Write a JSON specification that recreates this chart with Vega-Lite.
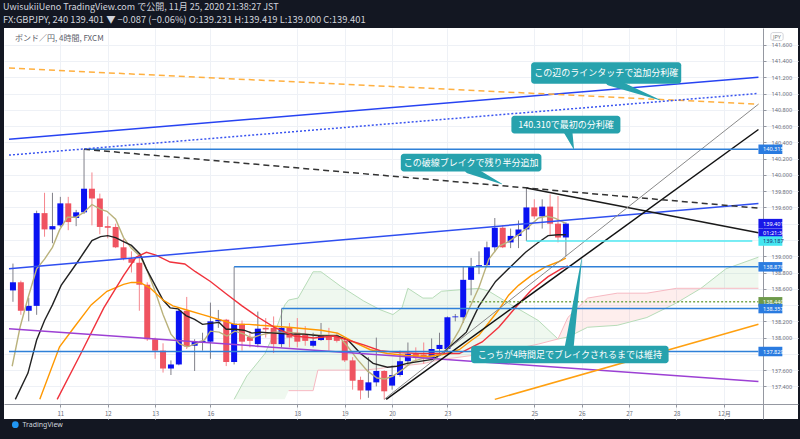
{
"$schema":"https://vega.github.io/schema/vega-lite/v6.json",
"width":794,"height":391,
"autosize":{"type":"none"},
"padding":{"left":4,"top":28,"right":2,"bottom":20},
"background":"#131722",
"config":{"view":{"fill":"white","stroke":null},
"axis":{"gridColor":"#eef1f6","domainColor":"#9598a1","tickColor":"#9598a1","labelColor":"#6a6d78","labelFontSize":6,"titleOpacity":0,"labelFont":"Noto Sans CJK JP","labelOverlap":false,"labelSeparation":0,"labelBound":false},
"axisY":{"labelOverlap":false,"labelFontSize":5.6,"labelFont":"Noto Sans"}},
"resolve":{"scale":{"color":"independent","size":"independent","strokeWidth":"independent"}},
"title":{"text":"UwisukiiUeno TradingView.com で公開, 11月 25, 2020 21:38:27 JST","subtitle":"FX:GBPJPY, 240 139.401 ▼ −0.087 (−0.06%) O:139.231 H:139.419 L:139.000 C:139.401","anchor":"start","frame":"group","color":"#d1d4dc","subtitleColor":"#d1d4dc","font":"Noto Sans CJK JP","subtitleFont":"Noto Sans CJK JP","fontSize":9,"subtitleFontSize":9.4,"fontWeight":"normal","offset":4,"dx":-1,"subtitlePadding":4},
"datasets":{
"candles":[
{"i":-6,"o":138.58,"h":138.91,"l":138.44,"c":138.68},
{"i":-5,"o":138.68,"h":138.70,"l":138.28,"c":138.33},
{"i":-4,"o":138.33,"h":138.49,"l":138.20,"c":138.39},
{"i":-3,"o":138.39,"h":139.56,"l":138.28,"c":139.53},
{"i":-2,"o":139.53,"h":139.78,"l":139.24,"c":139.33},
{"i":-1,"o":139.33,"h":139.78,"l":139.16,"c":139.37},
{"i":0,"o":139.38,"h":139.73,"l":139.36,"c":139.65},
{"i":1,"o":139.65,"h":139.73,"l":139.32,"c":139.42},
{"i":2,"o":139.47,"h":139.57,"l":139.37,"c":139.54},
{"i":3,"o":139.54,"h":140.315,"l":139.52,"c":139.83},
{"i":4,"o":139.83,"h":140.03,"l":139.38,"c":139.71},
{"i":5,"o":139.71,"h":139.77,"l":139.27,"c":139.36},
{"i":6,"o":139.37,"h":139.49,"l":139.22,"c":139.35},
{"i":7,"o":139.36,"h":139.40,"l":139.10,"c":139.11},
{"i":8,"o":139.11,"h":139.21,"l":138.95,"c":138.97},
{"i":9,"o":138.97,"h":139.06,"l":138.80,"c":138.92},
{"i":10,"o":138.92,"h":139.01,"l":138.33,"c":138.65},
{"i":11,"o":138.65,"h":138.68,"l":137.96,"c":137.98},
{"i":12,"o":137.98,"h":138.00,"l":137.74,"c":137.84},
{"i":13,"o":137.84,"h":137.93,"l":137.57,"c":137.62},
{"i":14,"o":137.62,"h":137.72,"l":137.54,"c":137.67},
{"i":15,"o":137.67,"h":138.36,"l":137.66,"c":138.33},
{"i":16,"o":138.33,"h":138.50,"l":137.86,"c":137.89},
{"i":17,"o":137.90,"h":137.98,"l":137.59,"c":137.95},
{"i":18,"o":137.94,"h":138.06,"l":137.84,"c":137.96},
{"i":19,"o":137.95,"h":138.43,"l":137.74,"c":138.20},
{"i":20,"o":138.20,"h":138.34,"l":138.12,"c":138.22},
{"i":21,"o":138.22,"h":138.23,"l":137.65,"c":137.70},
{"i":22,"o":137.70,"h":138.87,"l":137.67,"c":138.17},
{"i":23,"o":138.17,"h":138.21,"l":137.84,"c":137.95},
{"i":24,"o":138.01,"h":138.08,"l":137.88,"c":137.96},
{"i":25,"o":137.92,"h":138.32,"l":137.88,"c":138.11},
{"i":26,"o":138.12,"h":138.24,"l":138.00,"c":138.10},
{"i":27,"o":138.12,"h":138.26,"l":137.81,"c":137.92},
{"i":28,"o":137.92,"h":138.357,"l":137.88,"c":138.12},
{"i":29,"o":138.13,"h":138.18,"l":137.88,"c":138.00},
{"i":30,"o":138.06,"h":138.24,"l":137.88,"c":137.95},
{"i":31,"o":138.04,"h":138.14,"l":137.90,"c":137.96},
{"i":32,"o":137.90,"h":138.06,"l":137.88,"c":137.96},
{"i":33,"o":137.97,"h":138.18,"l":137.96,"c":138.03},
{"i":34,"o":138.03,"h":138.12,"l":137.84,"c":137.97},
{"i":35,"o":138.01,"h":138.06,"l":137.94,"c":137.96},
{"i":36,"o":137.96,"h":138.00,"l":137.70,"c":137.72},
{"i":37,"o":137.72,"h":137.76,"l":137.36,"c":137.47},
{"i":38,"o":137.48,"h":137.52,"l":137.24,"c":137.35},
{"i":39,"o":137.35,"h":137.76,"l":137.26,"c":137.45},
{"i":40,"o":137.45,"h":138.00,"l":137.40,"c":137.59},
{"i":41,"o":137.59,"h":137.60,"l":137.24,"c":137.34},
{"i":42,"o":137.41,"h":137.66,"l":137.36,"c":137.54},
{"i":43,"o":137.54,"h":137.84,"l":137.52,"c":137.71},
{"i":44,"o":137.71,"h":137.94,"l":137.66,"c":137.80},
{"i":45,"o":137.80,"h":137.88,"l":137.70,"c":137.76},
{"i":46,"o":137.79,"h":137.94,"l":137.68,"c":137.76},
{"i":47,"o":137.74,"h":137.99,"l":137.72,"c":137.86},
{"i":48,"o":137.86,"h":138.06,"l":137.80,"c":137.91},
{"i":49,"o":137.86,"h":138.26,"l":137.83,"c":138.25},
{"i":50,"o":138.25,"h":138.29,"l":138.20,"c":138.26},
{"i":51,"o":138.25,"h":138.88,"l":138.18,"c":138.71},
{"i":52,"o":138.71,"h":138.98,"l":138.52,"c":138.87},
{"i":53,"o":138.87,"h":139.06,"l":138.78,"c":138.89},
{"i":54,"o":138.89,"h":139.18,"l":138.88,"c":139.11},
{"i":55,"o":139.11,"h":139.47,"l":139.05,"c":139.35},
{"i":56,"o":139.35,"h":139.38,"l":139.10,"c":139.11},
{"i":57,"o":139.17,"h":139.34,"l":139.10,"c":139.25},
{"i":58,"o":139.25,"h":139.44,"l":139.10,"c":139.33},
{"i":59,"o":139.33,"h":139.84,"l":139.187,"c":139.60},
{"i":60,"o":139.60,"h":139.70,"l":139.46,"c":139.49},
{"i":61,"o":139.49,"h":139.70,"l":139.34,"c":139.61},
{"i":62,"o":139.61,"h":139.76,"l":139.26,"c":139.40},
{"i":63,"o":139.40,"h":139.74,"l":139.17,"c":139.23},
{"i":64,"o":139.231,"h":139.419,"l":139.000,"c":139.401}
],
"ma":[
{"s":"ma5","i":-6.1,"p":137.648},{"s":"ma5","i":-5.1,"p":138.127},{"s":"ma5","i":-4.1,"p":138.486},{"s":"ma5","i":-3,"p":138.845},{"s":"ma5","i":-2,"p":138.965},{"s":"ma5","i":-1,"p":139.109},{"s":"ma5","i":-0.1,"p":139.324},{"s":"ma5","i":0.9,"p":139.48},{"s":"ma5","i":2,"p":139.48},{"s":"ma5","i":3,"p":139.54},{"s":"ma5","i":4,"p":139.636},{"s":"ma5","i":5.1,"p":139.576},{"s":"ma5","i":5.9,"p":139.552},{"s":"ma5","i":7,"p":139.456},{"s":"ma5","i":8,"p":139.229},{"s":"ma5","i":9,"p":139.097},{"s":"ma5","i":10.1,"p":139.001},{"s":"ma5","i":10.9,"p":138.845},{"s":"ma5","i":12,"p":138.57},{"s":"ma5","i":13,"p":138.283},{"s":"ma5","i":14,"p":138.043},{"s":"ma5","i":15.1,"p":137.923},{"s":"ma5","i":16.1,"p":137.887},{"s":"ma5","i":17.1,"p":137.923},{"s":"ma5","i":18.25,"p":137.971},{"s":"ma5","i":19,"p":138.079},{"s":"ma5","i":20.1,"p":138.067},{"s":"ma5","i":21.1,"p":138.019},{"s":"ma5","i":22.1,"p":138.079},{"s":"ma5","i":23.25,"p":138.043},{"s":"ma5","i":24.25,"p":137.995},{"s":"ma5","i":25.25,"p":138.031},{"s":"ma5","i":27.1,"p":138.067},{"s":"ma5","i":28.9,"p":138.067},{"s":"ma5","i":30.9,"p":138.043},{"s":"ma5","i":33,"p":138.031},{"s":"ma5","i":35.1,"p":138.031},{"s":"ma5","i":36.4,"p":137.887},{"s":"ma5","i":37.6,"p":137.732},{"s":"ma5","i":38.9,"p":137.588},{"s":"ma5","i":40.1,"p":137.504},{"s":"ma5","i":41.1,"p":137.492},{"s":"ma5","i":42.1,"p":137.528},{"s":"ma5","i":43.4,"p":137.612},{"s":"ma5","i":44.6,"p":137.708},{"s":"ma5","i":45.9,"p":137.744},{"s":"ma5","i":47.1,"p":137.768},{"s":"ma5","i":48.25,"p":137.804},{"s":"ma5","i":49.25,"p":137.887},{"s":"ma5","i":50.5,"p":138.091},{"s":"ma5","i":51.75,"p":138.354},{"s":"ma5","i":53,"p":138.618},{"s":"ma5","i":54.25,"p":138.965},{"s":"ma5","i":55.5,"p":139.121},{"s":"ma5","i":56.75,"p":139.181},{"s":"ma5","i":58,"p":139.265},{"s":"ma5","i":59.25,"p":139.36},{"s":"ma5","i":60.5,"p":139.468},{"s":"ma5","i":61.5,"p":139.492},{"s":"ma5","i":62.6,"p":139.468},{"s":"ma5","i":63.9,"p":139.408},
{"s":"ma20","i":-5.7,"p":137.241},{"s":"ma20","i":-4.1,"p":137.564},{"s":"ma20","i":-3,"p":137.971},{"s":"ma20","i":-2,"p":138.211},{"s":"ma20","i":-1,"p":138.402},{"s":"ma20","i":0.1,"p":138.642},{"s":"ma20","i":2,"p":138.905},{"s":"ma20","i":3,"p":139.049},{"s":"ma20","i":4,"p":139.193},{"s":"ma20","i":5.1,"p":139.241},{"s":"ma20","i":6,"p":139.253},{"s":"ma20","i":7,"p":139.229},{"s":"ma20","i":8,"p":139.181},{"s":"ma20","i":9,"p":139.133},{"s":"ma20","i":10.1,"p":139.025},{"s":"ma20","i":10.9,"p":138.845},{"s":"ma20","i":12,"p":138.642},{"s":"ma20","i":13,"p":138.462},{"s":"ma20","i":13.9,"p":138.366},{"s":"ma20","i":14.9,"p":138.354},{"s":"ma20","i":15.9,"p":138.271},{"s":"ma20","i":17,"p":138.223},{"s":"ma20","i":18,"p":138.163},{"s":"ma20","i":19,"p":138.175},{"s":"ma20","i":20.1,"p":138.187},{"s":"ma20","i":21,"p":138.103},{"s":"ma20","i":22.1,"p":138.103},{"s":"ma20","i":23.25,"p":138.091},{"s":"ma20","i":24.25,"p":138.055},{"s":"ma20","i":25.25,"p":138.067},{"s":"ma20","i":27.1,"p":138.055},{"s":"ma20","i":28.9,"p":138.043},{"s":"ma20","i":30.9,"p":138.043},{"s":"ma20","i":33,"p":138.019},{"s":"ma20","i":35.1,"p":138.019},{"s":"ma20","i":36.4,"p":137.971},{"s":"ma20","i":38,"p":137.804},{"s":"ma20","i":39.6,"p":137.684},{"s":"ma20","i":41.4,"p":137.636},{"s":"ma20","i":42.6,"p":137.648},{"s":"ma20","i":43.9,"p":137.684},{"s":"ma20","i":45.5,"p":137.708},{"s":"ma20","i":47.1,"p":137.732},{"s":"ma20","i":48.4,"p":137.804},{"s":"ma20","i":49.6,"p":137.911},{"s":"ma20","i":51.4,"p":138.067},{"s":"ma20","i":53,"p":138.39},{"s":"ma20","i":55.1,"p":138.69},{"s":"ma20","i":57.1,"p":138.881},{"s":"ma20","i":58.9,"p":139.049},{"s":"ma20","i":60.5,"p":139.169},{"s":"ma20","i":61.75,"p":139.253},{"s":"ma20","i":63,"p":139.265},{"s":"ma20","i":64,"p":139.265},
{"s":"ma50","i":-2.6,"p":137.241},{"s":"ma50","i":-0.1,"p":137.887},{"s":"ma50","i":1.75,"p":138.127},{"s":"ma50","i":3.9,"p":138.402},{"s":"ma50","i":5.9,"p":138.57},{"s":"ma50","i":8,"p":138.654},{"s":"ma50","i":9,"p":138.678},{"s":"ma50","i":10.1,"p":138.678},{"s":"ma50","i":11.4,"p":138.606},{"s":"ma50","i":13,"p":138.462},{"s":"ma50","i":14.25,"p":138.39},{"s":"ma50","i":15.9,"p":138.342},{"s":"ma50","i":18,"p":138.283},{"s":"ma50","i":20.1,"p":138.223},{"s":"ma50","i":22.1,"p":138.163},{"s":"ma50","i":23.9,"p":138.163},{"s":"ma50","i":25.25,"p":138.151},{"s":"ma50","i":28.9,"p":138.127},{"s":"ma50","i":33,"p":138.091},{"s":"ma50","i":35.1,"p":138.055},{"s":"ma50","i":37.1,"p":137.947},{"s":"ma50","i":39.25,"p":137.851},{"s":"ma50","i":41.4,"p":137.804},{"s":"ma50","i":43.9,"p":137.78},{"s":"ma50","i":46.4,"p":137.768},{"s":"ma50","i":48.4,"p":137.792},{"s":"ma50","i":50.5,"p":137.851},{"s":"ma50","i":52.1,"p":137.971},{"s":"ma50","i":53,"p":138.031},{"s":"ma50","i":54.25,"p":138.186},{"s":"ma50","i":55.5,"p":138.342},{"s":"ma50","i":56.75,"p":138.522},{"s":"ma50","i":58,"p":138.642},{"s":"ma50","i":59.6,"p":138.762},{"s":"ma50","i":61.4,"p":138.869},{"s":"ma50","i":63,"p":138.929},{"s":"ma50","i":64,"p":138.977},
{"s":"ma75","i":-0.4,"p":137.241},{"s":"ma75","i":2.6,"p":137.804},{"s":"ma75","i":5.5,"p":138.366},{"s":"ma75","i":8,"p":138.761},{"s":"ma75","i":9.6,"p":138.989},{"s":"ma75","i":10.9,"p":139.049},{"s":"ma75","i":12.1,"p":139.013},{"s":"ma75","i":13.9,"p":138.929},{"s":"ma75","i":15.75,"p":138.905},{"s":"ma75","i":17.1,"p":138.81},{"s":"ma75","i":19,"p":138.69},{"s":"ma75","i":20.9,"p":138.546},{"s":"ma75","i":23,"p":138.39},{"s":"ma75","i":25.1,"p":138.247},{"s":"ma75","i":27.1,"p":138.127},{"s":"ma75","i":29.6,"p":138.019},{"s":"ma75","i":32.1,"p":137.995},{"s":"ma75","i":34.6,"p":138.019},{"s":"ma75","i":36.4,"p":137.971},{"s":"ma75","i":38.4,"p":137.911},{"s":"ma75","i":40.5,"p":137.839},{"s":"ma75","i":43,"p":137.816},{"s":"ma75","i":45.5,"p":137.804},{"s":"ma75","i":48,"p":137.804},{"s":"ma75","i":50.5,"p":137.804},{"s":"ma75","i":53.4,"p":137.947},{"s":"ma75","i":55.5,"p":138.127},{"s":"ma75","i":57.6,"p":138.366},{"s":"ma75","i":59.6,"p":138.582},{"s":"ma75","i":61.75,"p":138.75},{"s":"ma75","i":63.4,"p":138.845},{"s":"ma75","i":64.25,"p":138.881}
],
"cloud":[
{"seg":"g1","i":22,"a":137.241,"b":137.241},{"seg":"g1","i":23.6,"a":137.528,"b":137.241},{"seg":"g1","i":25.9,"a":137.803,"b":137.241},{"seg":"g1","i":27.4,"a":138.127,"b":137.241},{"seg":"g1","i":28.4,"a":138.4,"b":137.241},{"seg":"g1","i":28.9,"a":138.462,"b":137.348},{"seg":"g1","i":30.1,"a":138.486,"b":137.348},{"seg":"g1","i":32.0,"a":138.809,"b":137.348},{"seg":"g1","i":32.6,"a":138.809,"b":137.6},{"seg":"g1","i":33.0,"a":138.809,"b":137.6},{"seg":"g1","i":35.5,"a":138.63,"b":137.6},{"seg":"g1","i":38.4,"a":138.45,"b":137.6},{"seg":"g1","i":40.5,"a":138.342,"b":137.62},{"seg":"g1","i":42.1,"a":138.283,"b":137.648},{"seg":"g1","i":43.25,"a":138.366,"b":137.65},{"seg":"g1","i":44.0,"a":138.606,"b":137.66},{"seg":"g1","i":45.9,"a":138.486,"b":137.68},{"seg":"g1","i":47.1,"a":138.486,"b":137.708},{"seg":"g1","i":48.25,"a":138.57,"b":137.73},{"seg":"g1","i":53.0,"a":138.606,"b":137.792},{"seg":"g1","i":54.25,"a":138.57,"b":137.8},{"seg":"g1","i":57.1,"a":138.402,"b":137.85},{"seg":"g1","i":60.5,"a":138.211,"b":137.92},{"seg":"g1","i":63.0,"a":137.983,"b":137.983},
{"seg":"r","i":63.0,"a":137.983,"b":137.983},{"seg":"r","i":64.25,"a":138.007,"b":138.247},{"seg":"r","i":66.75,"a":138.127,"b":138.486},{"seg":"r","i":70.5,"a":138.151,"b":138.546},{"seg":"r","i":74.25,"a":138.247,"b":138.546},{"seg":"r","i":78.0,"a":138.426,"b":138.606},{"seg":"r","i":81.1,"a":138.606,"b":138.606},
{"seg":"g2","i":81.1,"a":138.606,"b":138.606},{"seg":"g2","i":84.25,"a":138.845,"b":138.606},{"seg":"g2","i":88.375,"a":138.989,"b":138.606}
],
"solid":[
{"s":"upperBlue","i":-6.5,"p":140.438},{"s":"upperBlue","i":88.375,"p":141.201},
{"s":"midBlue","i":-6.5,"p":138.846},{"s":"midBlue","i":88.375,"p":139.648},
{"s":"purple","i":-6.5,"p":138.109},{"s":"purple","i":88.375,"p":137.461},
{"s":"blkDown","i":59,"p":139.84},{"s":"blkDown","i":88.375,"p":139.289},
{"s":"blkUp","i":41.25,"p":137.241},{"s":"blkUp","i":88.375,"p":140.558},
{"s":"greyUp","i":41,"p":137.241},{"s":"greyUp","i":88.375,"p":140.869},
{"s":"orangeUp","i":55,"p":137.241},{"s":"orangeUp","i":88.375,"p":138.163},
{"s":"h140315","i":3,"p":140.315},{"s":"h140315","i":88.375,"p":140.315},
{"s":"h138870","i":22,"p":138.87},{"s":"h138870","i":88.375,"p":138.87},
{"s":"h138357","i":28,"p":138.357},{"s":"h138357","i":88.375,"p":138.357},
{"s":"h137829","i":-6.5,"p":137.829},{"s":"h137829","i":88.375,"p":137.829},
{"s":"h139187","i":59,"p":139.187},{"s":"h139187","i":87.6,"p":139.187}
],
"dashed":[
{"s":"orangeDash","i":-6.5,"p":141.313},{"s":"orangeDash","i":88.375,"p":140.869},
{"s":"blkDash","i":3,"p":140.315},{"s":"blkDash","i":88.375,"p":139.591}
],
"dotted":[
{"s":"blueDot","i":-6.5,"p":140.243},{"s":"blueDot","i":88.375,"p":141.001},
{"s":"greenDot","i":51.75,"p":138.44},{"s":"greenDot","i":88.375,"p":138.44}
],
"notes":[
{"t":"この辺のラインタッチで追加分利確","i0":59.6,"i1":78.6,"p0":141.121,"p1":141.384,"ti":69.1,"tp":141.253},
{"t":"140.310で最初の分利確","i0":57.1,"i1":70.9,"p0":140.51,"p1":140.726,"ti":64.0,"tp":140.618},
{"t":"この破線ブレイクで残り半分追加","i0":43.1,"i1":60.9,"p0":140.043,"p1":140.259,"ti":52.0,"tp":140.151},
{"t":"こっちが4時間足でブレイクされるまでは維持","i0":52,"i1":77,"p0":137.684,"p1":137.899,"ti":64.5,"tp":137.792}
],
"tails":[
{"t":"A","k":0,"i":69.6,"p":141.15},{"t":"A","k":1,"i":75.9,"p":140.921},
{"t":"B","k":0,"i":64.25,"p":140.54},{"t":"B","k":1,"i":65,"p":140.319},
{"t":"C","k":0,"i":51.75,"p":140.07},{"t":"C","k":1,"i":55.9,"p":139.888},
{"t":"D","k":0,"i":64.4,"p":137.87},{"t":"D","k":1,"i":66,"p":138.965}
],
"plabels":[
{"lab":"140.315","p":140.315},
{"lab":"139.401","p":139.401},
{"lab":"01:21:34","p":139.283},
{"lab":"139.187","p":139.187},
{"lab":"138.870","p":138.87},
{"lab":"138.440","p":138.44},
{"lab":"138.357","p":138.357},
{"lab":"137.829","p":137.829}
]
},
"layer":[
{"data":{"name":"cloud"},"mark":{"type":"area","fillOpacity":0.09},
"encoding":{
"x":{"field":"i","type":"quantitative","title":null,"scale":{"domain":[-6.5,92.75],"nice":false,"zero":false},
"axis":{"orient":"bottom","offset":-15,"values":[0,6,12,19,30,36,42,49,60,66,72,78,84],"tickCount":40,"tickSize":3,"labelPadding":3,"labelOverlap":false,"labelFlush":false,
"labelExpr":"datum.value==0?'11':datum.value==6?'12':datum.value==12?'13':datum.value==19?'16':datum.value==30?'18':datum.value==36?'19':datum.value==42?'20':datum.value==49?'23':datum.value==60?'25':datum.value==66?'26':datum.value==72?'27':datum.value==78?'28':'12月'"}},
"y":{"field":"a","type":"quantitative","title":null,"scale":{"domain":[137.061,141.744],"nice":false,"zero":false},
"axis":{"orient":"right","offset":-35,"values":[137.4,137.6,137.8,138.0,138.2,138.4,138.6,138.8,139.0,139.2,139.4,139.6,139.8,140.0,140.2,140.4,140.6,140.8,141.0,141.2,141.4,141.6],"tickCount":40,"tickSize":3,"labelPadding":5,"labelOverlap":false,"labelSeparation":0,"labelBound":false,"labelFlush":false,"labelFontSize":5.6,"labelFont":"Noto Sans",
"labelExpr":"(abs(datum.value-139.4)<0.01||abs(datum.value-139.2)<0.01||abs(datum.value-138.4)<0.01||abs(datum.value-137.8)<0.01)?'':format(datum.value,'.3f')"}},
"y2":{"field":"b"},
"detail":{"field":"seg"},
"color":{"condition":{"test":"datum.seg=='r'","value":"#f44336"},"value":"#4caf50"}}},
{"data":{"name":"cloud"},"mark":{"type":"line","stroke":"#b7dcb8","strokeWidth":1},
"encoding":{"x":{"field":"i","type":"quantitative"},"y":{"field":"a","type":"quantitative"}}},
{"data":{"name":"cloud"},"transform":[{"filter":"datum.i>=28.9"}],"mark":{"type":"line","stroke":"#f7b9c2","strokeWidth":1},
"encoding":{"x":{"field":"i","type":"quantitative"},"y":{"field":"b","type":"quantitative"}}},
{"data":{"name":"candles"},"mark":{"type":"rule","strokeWidth":1},
"encoding":{"x":{"field":"i","type":"quantitative"},"y":{"field":"l","type":"quantitative"},"y2":{"field":"h"},
"color":{"condition":{"test":"datum.c>=datum.o","value":"#808089"},"value":"#f5868d"}}},
{"data":{"name":"candles"},"mark":{"type":"bar","size":6},
"encoding":{"x":{"field":"i","type":"quantitative"},"y":{"field":"o","type":"quantitative"},"y2":{"field":"c"},
"color":{"condition":{"test":"datum.c>=datum.o","value":"#0a12f2"},"value":"#ef5360"}}},
{"data":{"name":"ma"},"mark":{"type":"line","strokeWidth":1.4},
"encoding":{"x":{"field":"i","type":"quantitative"},"y":{"field":"p","type":"quantitative"},
"color":{"field":"s","type":"nominal","legend":null,"scale":{"domain":["ma5","ma20","ma50","ma75"],"range":["#bab27c","#222222","#ff9800","#f0323c"]}},
"strokeWidth":{"condition":{"test":"datum.s=='ma5'","value":1.1},"value":1.5}}},
{"data":{"name":"solid"},"mark":{"type":"line"},
"encoding":{"x":{"field":"i","type":"quantitative"},"y":{"field":"p","type":"quantitative"},"detail":{"field":"s"},
"color":{"field":"s","type":"nominal","legend":null,"scale":{"domain":["upperBlue","midBlue","purple","blkDown","blkUp","greyUp","orangeUp","h140315","h138870","h138357","h137829","h139187"],"range":["#2743f2","#2f4ff0","#9c40d4","#1a1a1a","#111111","#8a8a8a","#ffa010","#2f80d8","#2f80d8","#2f80d8","#2f80d8","#4fe8f2"]}},
"strokeWidth":{"condition":{"test":"datum.s=='greyUp'","value":1},"value":1.5}}},
{"data":{"name":"dashed"},"mark":{"type":"line","strokeDash":[6,4],"strokeWidth":1.5},
"encoding":{"x":{"field":"i","type":"quantitative"},"y":{"field":"p","type":"quantitative"},"detail":{"field":"s"},
"color":{"field":"s","type":"nominal","legend":null,"scale":{"domain":["orangeDash","blkDash"],"range":["#ffb040","#333333"]}}}},
{"data":{"name":"dotted"},"mark":{"type":"line","strokeDash":[2,2],"strokeWidth":1.5},
"encoding":{"x":{"field":"i","type":"quantitative"},"y":{"field":"p","type":"quantitative"},"detail":{"field":"s"},
"color":{"field":"s","type":"nominal","legend":null,"scale":{"domain":["blueDot","greenDot"],"range":["#3a55f0","#7aa84e"]}}}},
{"data":{"name":"notes"},"mark":{"type":"rect","color":"#27a2ad","cornerRadius":3},
"encoding":{"x":{"field":"i0","type":"quantitative"},"x2":{"field":"i1"},"y":{"field":"p0","type":"quantitative"},"y2":{"field":"p1"}}},
{"data":{"name":"tails"},"mark":{"type":"trail","color":"#27a2ad"},
"encoding":{"x":{"field":"i","type":"quantitative"},"y":{"field":"p","type":"quantitative"},"detail":{"field":"t"},"order":{"field":"k"},
"size":{"field":"k","type":"quantitative","legend":null,"scale":{"domain":[0,1],"range":[9,0.5]}}}},
{"data":{"name":"notes"},"mark":{"type":"text","color":"white","font":"Noto Sans CJK JP","fontSize":9,"align":"center","baseline":"middle"},
"encoding":{"x":{"field":"ti","type":"quantitative"},"y":{"field":"tp","type":"quantitative"},"text":{"field":"t"}}},
{"data":{"name":"plabels"},"mark":{"type":"bar","size":9.5},
"encoding":{"x":{"datum":88.375},"x2":{"datum":91.4},"y":{"field":"p","type":"quantitative"},
"color":{"field":"lab","type":"nominal","legend":null,"scale":{"domain":["140.315","139.401","01:21:34","139.187","138.870","138.440","138.357","137.829"],"range":["#2a7be0","#1717e8","#1717e8","#45e6f0","#2a7be0","#6e9a4a","#2a7be0","#2a7be0"]}}}},
{"data":{"name":"plabels"},"mark":{"type":"text","fontSize":5.6,"font":"Noto Sans","align":"left","baseline":"middle"},
"encoding":{"x":{"datum":88.95},"y":{"field":"p","type":"quantitative"},"text":{"field":"lab"},
"color":{"condition":{"test":"datum.lab=='139.187'","value":"#1b2a6e"},"value":"white"}}},
{"data":{"values":[{"t":"ボンド／円, 4時間, FXCM"}]},"mark":{"type":"text","font":"Noto Sans CJK JP","fontSize":8,"color":"#5d606b","align":"left","baseline":"middle"},
"encoding":{"x":{"datum":-5.75},"y":{"datum":141.672},"text":{"field":"t"}}},
{"data":{"values":[{"t":"JPY"}]},"mark":{"type":"bar","size":8,"fill":"white","stroke":"#c8cad0","strokeWidth":0.8,"cornerRadius":2},
"encoding":{"x":{"datum":89.95},"x2":{"datum":91.5},"y":{"datum":141.7}}},
{"data":{"values":[{"t":"JPY"}]},"mark":{"type":"text","font":"Noto Sans","fontSize":5.5,"color":"#777777","align":"center","baseline":"middle"},
"encoding":{"x":{"datum":90.72},"y":{"datum":141.7},"text":{"field":"t"}}},
{"data":{"values":[{"t":"TradingView"}]},"mark":{"type":"text","font":"Noto Sans","fontSize":7,"color":"#d1d4dc","align":"left","baseline":"middle"},
"encoding":{"x":{"datum":-4.8},"y":{"datum":136.93},"text":{"field":"t"}}},
{"data":{"values":[{"t":"logo"}]},"mark":{"type":"point","shape":"circle","filled":true,"color":"#2196f3","size":45,"opacity":1},
"encoding":{"x":{"datum":-5.7},"y":{"datum":136.93}}}
]
}
